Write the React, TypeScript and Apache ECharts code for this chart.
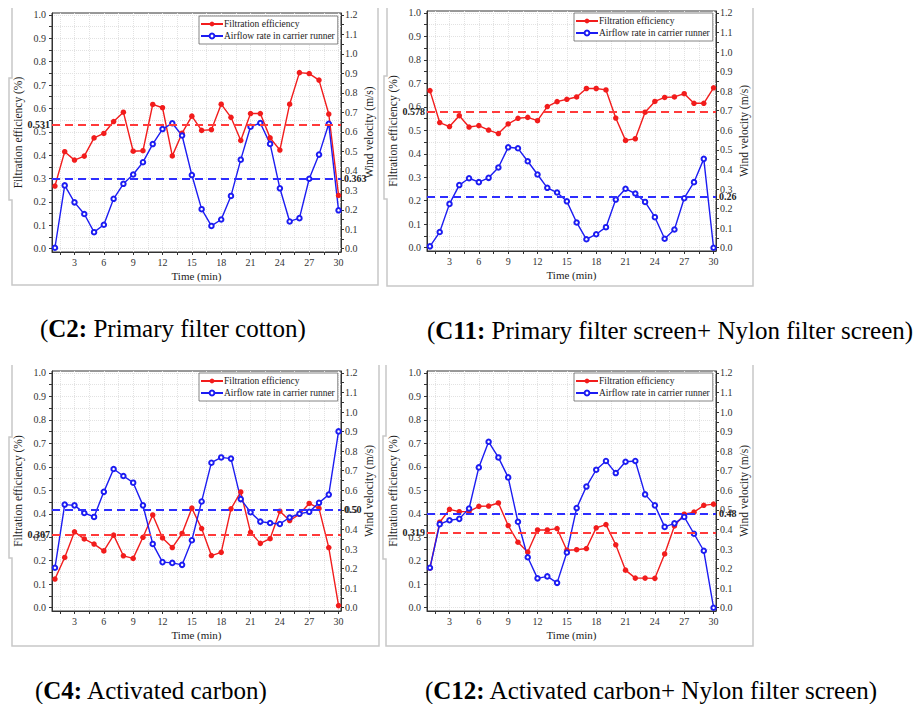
import { useEffect, useRef } from 'react';
import * as echarts from 'echarts';

const FONT = 'Liberation Serif';

// ---------- data ----------
const minutes = [1, 2, 3, 4, 5, 6, 7, 8, 9, 10, 11, 12, 13, 14, 15, 16, 17, 18, 19, 20, 21, 22, 23, 24, 25, 26, 27, 28, 29, 30];

const xTickValues = [1.5, 3, 4.5, 6, 7.5, 9, 10.5, 12, 13.5, 15, 16.5, 18, 19.5, 21, 22.5, 24, 25.5, 27, 28.5, 30];
const xLabelValues = [3, 6, 9, 12, 15, 18, 21, 24, 27, 30];
const leftTickValues = [0, 0.05, 0.1, 0.15, 0.2, 0.25, 0.3, 0.35, 0.4, 0.45, 0.5, 0.55, 0.6, 0.65, 0.7, 0.75, 0.8, 0.85, 0.9, 0.95, 1.0];
const leftLabelValues = [0, 0.1, 0.2, 0.3, 0.4, 0.5, 0.6, 0.7, 0.8, 0.9, 1.0];
const rightTickValues = [0, 0.05, 0.1, 0.15, 0.2, 0.25, 0.3, 0.35, 0.4, 0.45, 0.5, 0.55, 0.6, 0.65, 0.7, 0.75, 0.8, 0.85, 0.9, 0.95, 1.0, 1.05, 1.1, 1.15, 1.2];
const rightLabelValues = [0, 0.1, 0.2, 0.3, 0.4, 0.5, 0.6, 0.7, 0.8, 0.9, 1.0, 1.1, 1.2];

const effName = 'Filtration efficiency';
const flowName = 'Airflow rate in carrier runner';
const leftAxisTitle = 'Filtration efficiency (%)';
const rightAxisTitle = 'Wind velocity (m/s)';
const xAxisTitle = 'Time (min)';

// C2: Primary filter cotton
const effC2 = [0.268, 0.415, 0.379, 0.396, 0.474, 0.493, 0.544, 0.584, 0.417, 0.419, 0.617, 0.603, 0.397, 0.494, 0.567, 0.506, 0.509, 0.618, 0.562, 0.463, 0.578, 0.578, 0.474, 0.422, 0.618, 0.753, 0.749, 0.721, 0.576, 0.228];
const flowC2 = [0.005, 0.325, 0.238, 0.178, 0.085, 0.123, 0.256, 0.333, 0.381, 0.444, 0.537, 0.614, 0.644, 0.581, 0.378, 0.203, 0.117, 0.150, 0.271, 0.457, 0.626, 0.645, 0.538, 0.310, 0.140, 0.157, 0.359, 0.483, 0.641, 0.197];

// C11: Primary filter screen + Nylon filter screen
const effC11 = [0.669, 0.533, 0.516, 0.562, 0.514, 0.520, 0.501, 0.486, 0.527, 0.551, 0.555, 0.541, 0.601, 0.622, 0.632, 0.642, 0.678, 0.678, 0.672, 0.552, 0.457, 0.464, 0.577, 0.623, 0.640, 0.642, 0.656, 0.615, 0.615, 0.681];
const flowC11 = [0.007, 0.080, 0.224, 0.320, 0.355, 0.335, 0.357, 0.410, 0.513, 0.508, 0.442, 0.374, 0.306, 0.282, 0.237, 0.129, 0.043, 0.069, 0.105, 0.246, 0.301, 0.277, 0.234, 0.156, 0.046, 0.093, 0.253, 0.335, 0.454, 0.0];

// C4: Activated carbon
const effC4 = [0.122, 0.214, 0.323, 0.293, 0.271, 0.242, 0.309, 0.221, 0.210, 0.300, 0.395, 0.297, 0.256, 0.316, 0.424, 0.337, 0.222, 0.236, 0.421, 0.493, 0.321, 0.274, 0.294, 0.411, 0.371, 0.398, 0.444, 0.423, 0.256, 0.009];
const flowC4 = [0.204, 0.527, 0.523, 0.484, 0.464, 0.592, 0.709, 0.673, 0.639, 0.523, 0.326, 0.233, 0.229, 0.219, 0.345, 0.543, 0.741, 0.768, 0.762, 0.555, 0.488, 0.440, 0.433, 0.428, 0.461, 0.480, 0.490, 0.536, 0.578, 0.901];

// C12: Activated carbon + Nylon filter screen
const effC12 = [0.169, 0.364, 0.419, 0.409, 0.409, 0.432, 0.433, 0.446, 0.350, 0.279, 0.237, 0.331, 0.331, 0.337, 0.245, 0.247, 0.252, 0.340, 0.354, 0.268, 0.160, 0.126, 0.126, 0.125, 0.229, 0.348, 0.398, 0.407, 0.436, 0.441];
const flowC12 = [0.204, 0.427, 0.447, 0.454, 0.507, 0.717, 0.848, 0.768, 0.666, 0.439, 0.258, 0.150, 0.160, 0.127, 0.282, 0.509, 0.619, 0.705, 0.750, 0.688, 0.746, 0.750, 0.579, 0.523, 0.413, 0.431, 0.464, 0.378, 0.291, 0.0];

const effSeries = [effC2, effC11, effC4, effC12];
const flowSeries = [flowC2, flowC11, flowC4, flowC12];
const effMeans = [0.531, 0.578, 0.307, 0.319];
const flowMeans = [0.363, 0.26, 0.5, 0.48];
const effMeanLabels = ['0.531', '0.578', '0.307', '0.319'];
const flowMeanLabels = ['0.363', '0.26', '0.50', '0.48'];

const captionIds = ['C2:', 'C11:', 'C4:', 'C12:'];
const captionTexts = [
  'Primary filter cotton',
  'Primary filter screen+ Nylon filter screen',
  'Activated carbon',
  'Activated carbon+ Nylon filter screen',
];

// ---------- layout / style ----------
const grids = [
  { left: 52, top: 13, width: 289, height: 239 },
  { left: 427, top: 11, width: 289, height: 240 },
  { left: 52, top: 371, width: 289, height: 240 },
  { left: 427, top: 371, width: 289, height: 240 },
];
const legendPos = [
  { left: 199, top: 16 },
  { left: 574, top: 13 },
  { left: 199, top: 373 },
  { left: 574, top: 373 },
];
const effLabelShift = [0, 1, -6, -3];
const flowLabelShift = [3, 4, -8, 5];
const captionPos = [
  { x: 40, y: 328 },
  { x: 427, y: 330 },
  { x: 35, y: 690 },
  { x: 425, y: 690 },
];
const framePoints = [
  [[12, 8], [12, 78], [9, 78], [9, 200], [12, 200], [12, 285], [378, 285], [378, 8]],
  [[387, 8], [387, 76], [384, 76], [384, 199], [387, 199], [387, 286], [753, 286], [753, 8]],
  [[12, 365], [12, 437], [9, 437], [9, 558], [12, 558], [12, 646], [379, 646], [379, 365]],
  [[386, 365], [386, 436], [383, 436], [383, 559], [386, 559], [386, 646], [753, 646], [753, 365]],
];

const RED = '#f21c1c';
const BLUE = '#1c1cf2';
const RED_DASH = '#ff3a3a';
const BLUE_DASH = '#2e2eff';
const AXIS = '#333';
const GRIDLINE = '#e2e2e2';

function shiftPadding(s: number) {
  return s < 0 ? [0, 0, -2 * s, 0] : [2 * s, 0, 0, 0];
}

function buildOption() {
  const xAxis: any[] = [];
  const yAxis: any[] = [];
  const series: any[] = [];
  const legend: any[] = [];
  const graphic: any[] = [];

  grids.forEach((g, i) => {
    xAxis.push({
      type: 'value',
      gridIndex: i,
      min: 0.7,
      max: 30.25,
      name: xAxisTitle,
      nameLocation: 'middle',
      nameGap: 18,
      nameTextStyle: { fontFamily: FONT, fontSize: 11, color: '#222' },
      axisLine: { show: true, onZero: false, lineStyle: { color: AXIS, width: 1 } },
      axisTick: { show: true, length: 3, customValues: xTickValues, lineStyle: { color: AXIS } },
      axisLabel: { customValues: xLabelValues, fontFamily: FONT, fontSize: 10, color: '#333', margin: 5 },
      splitLine: { show: true, lineStyle: { color: GRIDLINE, type: 'dotted', width: 1 } },
    });
    yAxis.push({
      type: 'value',
      gridIndex: i,
      position: 'left',
      min: -0.014,
      max: 1.008,
      name: leftAxisTitle,
      nameLocation: 'middle',
      nameRotate: 90,
      nameGap: 28,
      nameTextStyle: { fontFamily: FONT, fontSize: 11.5, color: '#222' },
      axisLine: { show: true, onZero: false, lineStyle: { color: AXIS, width: 1 } },
      axisTick: { show: true, length: 3, customValues: leftTickValues, lineStyle: { color: AXIS } },
      axisLabel: {
        customValues: leftLabelValues,
        formatter: (v: number) => v.toFixed(1),
        fontFamily: FONT, fontSize: 10, color: '#333', margin: 6,
      },
      splitLine: { show: true, lineStyle: { color: GRIDLINE, type: 'dotted', width: 1 } },
    });
    yAxis.push({
      type: 'value',
      gridIndex: i,
      position: 'right',
      min: -0.0168,
      max: 1.2096,
      name: rightAxisTitle,
      nameLocation: 'middle',
      nameRotate: 90,
      nameGap: 22,
      nameTextStyle: { fontFamily: FONT, fontSize: 11.5, color: '#222' },
      axisLine: { show: true, onZero: false, lineStyle: { color: AXIS, width: 1 } },
      axisTick: { show: true, length: 3, customValues: rightTickValues, lineStyle: { color: AXIS } },
      axisLabel: {
        customValues: rightLabelValues,
        formatter: (v: number) => v.toFixed(1),
        fontFamily: FONT, fontSize: 10, color: '#333', margin: 4,
      },
      splitLine: { show: false },
    });

    series.push({
      type: 'line',
      name: effName,
      xAxisIndex: i,
      yAxisIndex: 2 * i,
      data: minutes.map((m, k) => [m, effSeries[i][k]]),
      symbol: 'circle',
      symbolSize: 5.5,
      lineStyle: { color: RED, width: 1.4 },
      itemStyle: { color: RED },
      z: 3,
      markLine: {
        silent: true,
        symbol: ['none', 'none'],
        lineStyle: { color: RED_DASH, type: [8, 5], width: 2 },
        label: {
          position: 'start',
          distance: 2,
          formatter: () => effMeanLabels[i],
          fontFamily: FONT, fontSize: 10, fontWeight: 'bold', color: '#222',
          padding: shiftPadding(effLabelShift[i]),
        },
        data: [{ yAxis: effMeans[i] }],
      },
    });
    series.push({
      type: 'line',
      name: flowName,
      xAxisIndex: i,
      yAxisIndex: 2 * i + 1,
      data: minutes.map((m, k) => [m, flowSeries[i][k]]),
      symbol: 'emptyCircle',
      symbolSize: 4.5,
      lineStyle: { color: BLUE, width: 1.4 },
      itemStyle: { color: BLUE, borderWidth: 1 },
      z: 3,
      markLine: {
        silent: true,
        symbol: ['none', 'none'],
        lineStyle: { color: BLUE_DASH, type: [8, 5], width: 2 },
        label: {
          position: 'end',
          distance: 3,
          formatter: () => flowMeanLabels[i],
          fontFamily: FONT, fontSize: 10, fontWeight: 'bold', color: '#222',
          padding: shiftPadding(flowLabelShift[i]),
        },
        data: [{ yAxis: flowMeans[i] }],
      },
    });

    legend.push({
      left: legendPos[i].left,
      top: legendPos[i].top,
      orient: 'vertical',
      data: [effName, flowName],
      itemWidth: 22,
      itemHeight: 6,
      itemGap: 2,
      padding: [3, 3, 3, 1],
      borderColor: '#666',
      borderWidth: 0.8,
      borderRadius: 0,
      backgroundColor: '#fff',
      selectedMode: false,
      textStyle: { fontFamily: FONT, fontSize: 9.5, color: '#222', padding: [0, 0, 0, -4] },
    });

    graphic.push({
      type: 'polyline',
      silent: true,
      shape: { points: framePoints[i] },
      style: { stroke: '#c8c8c8', lineWidth: 1.5, fill: null },
    });
    graphic.push({
      type: 'text',
      x: captionPos[i].x,
      y: captionPos[i].y,
      style: {
        text: '{n|(}{b|' + captionIds[i] + '}{n| ' + captionTexts[i] + ')}',
        verticalAlign: 'middle',
        rich: {
          n: { fontFamily: FONT, fontSize: 25, color: '#000' },
          b: { fontFamily: FONT, fontSize: 25, fontWeight: 'bold', color: '#000' },
        },
      },
    });
  });

  return {
    animation: false,
    backgroundColor: '#fff',
    grid: grids.map((g) => ({ ...g, show: true, borderColor: AXIS, borderWidth: 1, backgroundColor: 'transparent' })),
    xAxis,
    yAxis,
    legend,
    series,
    graphic,
  };
}

export default function App() {
  const ref = useRef<HTMLDivElement>(null);
  useEffect(() => {
    if (!ref.current) return;
    const chart = echarts.init(ref.current, undefined, { renderer: 'svg' });
    chart.setOption(buildOption() as any);
    return () => chart.dispose();
  }, []);
  return (
    <div
      ref={ref}
      style={{ position: 'absolute', left: 0, top: 0, width: 919, height: 704, background: '#fff' }}
    />
  );
}
